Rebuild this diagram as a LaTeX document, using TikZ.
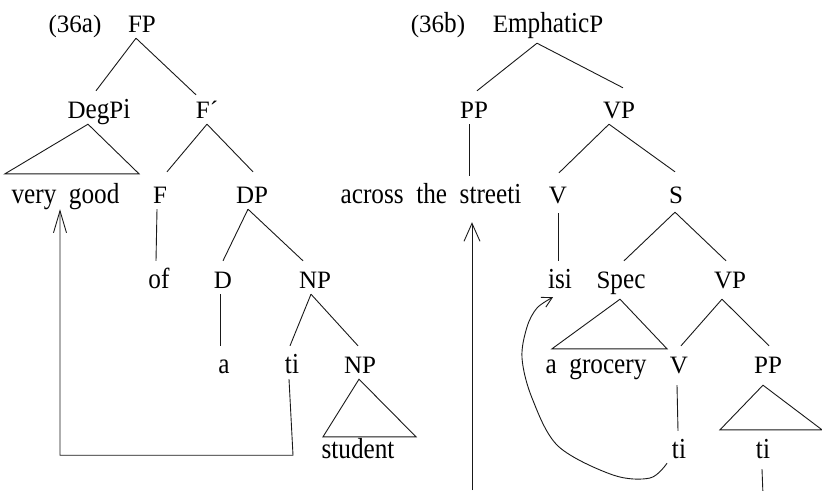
\documentclass[tikz,border=0pt]{standalone}
\usepackage{fontspec}
\setmainfont{Liberation Serif}[WordSpace=2.2]
\newfontfamily\lcfont{Liberation Serif}[FakeStretch=0.87, WordSpace=2.0]
\newcommand\lcsel{\lcfont\fontsize{29}{30}\selectfont}
\newcommand\lwr[1]{{\lcsel #1}}
\usetikzlibrary{arrows.meta,calc}
\begin{document}
\begin{tikzpicture}[x=1pt,y=-1pt,
  tn/.style={inner sep=0pt, text height=27pt, text depth=6pt, anchor=base, font=\fontsize{25}{30}\selectfont},
  tl/.style={tn, font=\lcsel},
  br/.style={line width=0.9pt, black!90},
  bigarrow/.style={br, -{Straight Barb[length=22pt,width=13pt,line width=0.9pt]}},
  bigarrowb/.style={br, -{Straight Barb[length=18pt,width=16pt,line width=0.9pt]}},
  smallarrow/.style={br, -{Straight Barb[length=10pt,width=11pt,line width=0.9pt]}}]
\useasboundingbox (0,0) rectangle (822,490);
% ---------- left tree (36a)
\node[tn] (l36a) at (75,32) {(36\lwr{a})};
\node[tn] (FP) at (142,32) {FP};
\node[tn] (DegPi) at (99,118) {D\lwr{eg}P\lwr{i}};
\node[tn] (Fbar) at (207,118) {F´};
\node[tl] (vg) at (65.5,203) {very good};
\node[tn] (F) at (160,203) {F};
\node[tn] (DP) at (252,203) {DP};
\node[tl] (of) at (159,288) {of};
\node[tn] (D) at (223,288) {D};
\node[tn] (NPa) at (315,288) {NP};
\node[tl] (a) at (224,373) {a};
\node[tl] (tia) at (292,373) {ti};
\node[tn] (NPb) at (360,373) {NP};
\node[tl] (student) at (358,458) {student};

\draw[br] ([xshift=-6pt]FP.south) -- ([xshift=-3pt]DegPi.north);
\draw[br] ([xshift=-6pt]FP.south) -- ([xshift=-11pt,yshift=-4pt]Fbar.north);
\draw[br] ([xshift=-11pt]DegPi.south) -- ([xshift=-60.5pt,yshift=2pt]vg.north)
  -- ([xshift=73.5pt,yshift=2pt]vg.north) -- cycle;
\draw[br] (Fbar.south) -- ([xshift=7pt,yshift=4pt]F.north);
\draw[br] (Fbar.south) -- ([xshift=1pt,yshift=4pt]DP.north);
\draw[br] ([xshift=-3pt]F.south) -- ([xshift=-3pt]of.north);
\draw[br] ([xshift=-4pt]DP.south) -- (D.north);
\draw[br] ([xshift=-4pt]DP.south) -- ([xshift=-12pt]NPa.north);
\draw[br] ([xshift=-3pt]D.south) -- ([xshift=-4pt]a.north);
\draw[br] ([xshift=-4pt]NPa.south) -- ([xshift=-2pt]tia.north);
\draw[br] ([xshift=-4pt]NPa.south) -- ([xshift=-2pt]NPb.north);
\draw[br] ([xshift=-1pt]NPb.south) -- ([xshift=-35pt,yshift=-6pt]student.north)
  -- ([xshift=58pt,yshift=-6pt]student.north) -- cycle;
\draw[bigarrow] ([xshift=-3pt]tia.south) -- ++(4,76) -| ([xshift=-5.5pt]vg.south);

% ---------- right tree (36b)
\node[tn] (l36b) at (438,32) {(36\lwr{b})};
\node[tn] (Emph) at (548,32) {E\lwr{mphatic}P};
\node[tn] (PPa) at (474,118) {PP};
\node[tn] (VPa) at (619,118) {VP};
\node[tl] (ats) at (431,203) {across the streeti};
\node[tn] (Va) at (558,203) {V};
\node[tn] (S) at (676,203) {S};
\node[tl] (isi) at (560,288) {isi};
\node[tn] (Spec) at (621,288) {S\lwr{pec}};
\node[tn] (VPb) at (730,288) {VP};
\node[tl] (agr) at (596,373) {a grocery};
\node[tn] (Vb) at (679,373) {V};
\node[tn] (PPb) at (768,373) {PP};
\node[tl] (tib) at (679,458) {ti};
\node[tl] (tic) at (763,458) {ti};

\draw[br] ([xshift=-11pt,yshift=-5pt]Emph.south) -- ([xshift=3pt]PPa.north);
\draw[br] ([xshift=-11pt,yshift=-5pt]Emph.south) -- ([xshift=4pt,yshift=3pt]VPa.north);
\draw[br] ([xshift=-5pt]PPa.south) -- ([xshift=-5pt]PPa.south |- ats.north);
\draw[br] ([xshift=-10pt]VPa.south) -- ([xshift=1pt,yshift=3pt]Va.north);
\draw[br] ([xshift=-10pt]VPa.south) -- ([xshift=-1pt,yshift=4pt]S.north);
\draw[br] ([yshift=-4pt]Va.south) -- (Va.south |- isi.north);
\draw[br] ([xshift=-1pt,yshift=-3pt]S.south) -- ([xshift=3pt]Spec.north);
\draw[br] ([xshift=-1pt,yshift=-3pt]S.south) -- ([xshift=-4pt]VPb.north);
\draw[br] ([xshift=-1pt,yshift=-5pt]Spec.south) -- ([xshift=-44pt,yshift=-3pt]agr.north)
  -- ([xshift=71pt,yshift=-3pt]agr.north) -- cycle;
\draw[br] ([xshift=-8pt,yshift=-5pt]VPb.south) -- ([xshift=2pt]Vb.north);
\draw[br] ([xshift=-8pt,yshift=-5pt]VPb.south) -- ([xshift=1pt]PPb.north);
\draw[br] ([xshift=-2pt,yshift=-6pt]Vb.south) -- ([xshift=-1pt]tib.north);
\draw[br] ([xshift=-5pt,yshift=-6pt]PPb.south) -- ([xshift=-43pt,yshift=1pt]tic.north)
  -- ([xshift=59pt,yshift=1pt]tic.north) -- cycle;
\draw[br] ([xshift=-1pt,yshift=-5pt]tic.south) -- ++(1,26);
\coordinate (bigb) at (472,490);
\draw[bigarrowb] (bigb) -- ($(bigb |- ats.south)+(0,13)$);
\draw[smallarrow] plot[smooth, tension=0.55] coordinates {([xshift=-12pt,yshift=1pt]tib.south) (650,478) (613,475) (558,446) (532,398) (522,358) (527,327) (537,308) ([xshift=-7pt,yshift=-3pt]isi.south)};
\end{tikzpicture}
\end{document}
